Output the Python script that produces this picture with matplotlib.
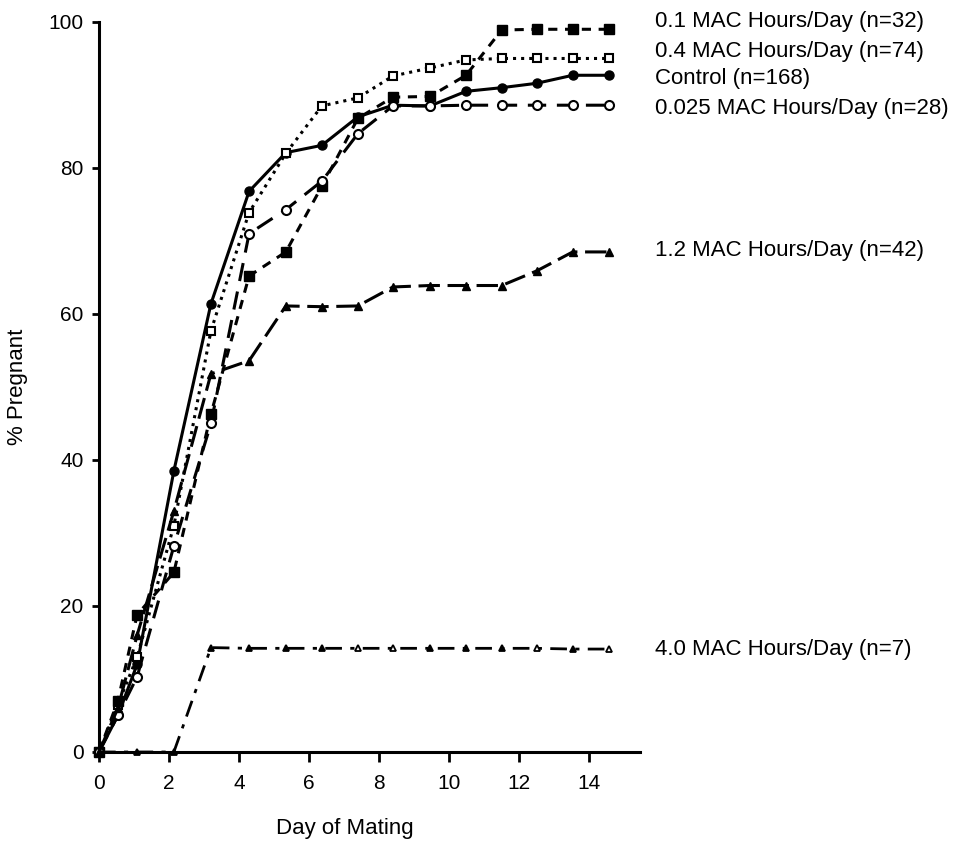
import matplotlib
matplotlib.use('Agg')
import matplotlib.pyplot as plt

plt.rcParams['font.family'] = ['Liberation Sans', 'DejaVu Sans']

# 日ごとのプロット位置
day_pos = [0, 0.54, 1.09, 2.14, 3.2, 4.29, 5.34, 6.37, 7.4, 8.4, 9.46, 10.49, 11.51, 12.51, 13.54, 14.57]
day_pos_40 = [0, 1.09, 2.14, 3.2, 4.29, 5.34, 6.37, 7.4, 8.4, 9.46, 10.49, 11.51, 12.51, 13.54, 14.57]

control = [0, 5, 12, 38.5, 61.4, 76.8, 82.1, 83.1, 87, 88.6, 88.5, 90.5, 91, 91.6, 92.7, 92.7]
mac_04 = [0, 6.5, 13, 31, 57.7, 73.9, 82, 88.5, 89.6, 92.6, 93.7, 94.8, 95, 95, 95, 95]
mac_01 = [0, 7, 18.8, 24.6, 46.3, 65.2, 68.5, 77.5, 86.8, 89.7, 89.8, 92.7, 98.9, 99, 99, 99]
mac_0025 = [0, 5, 10.3, 28.2, 45, 71, 74.3, 78.2, 84.7, 88.5, 88.5, 88.6, 88.6, 88.6, 88.6, 88.6]
mac_12 = [0, 6, 16, 33, 51.8, 53.6, 61.1, 61, 61.1, 63.7, 63.9, 63.9, 63.9, 65.9, 68.5, 68.5]
mac_40 = [0, 0, 0, 14.3, 14.2, 14.2, 14.2, 14.2, 14.2, 14.2, 14.2, 14.2, 14.2, 14.1, 14.1]
mac_40_open = [False, False, False, False, False, False, True, True, False, False, False, True, False, True]

labels = ['0.1 MAC Hours/Day (n=32)', '0.4 MAC Hours/Day (n=74)', 'Control (n=168)',
          '0.025 MAC Hours/Day (n=28)', '1.2 MAC Hours/Day (n=42)', '4.0 MAC Hours/Day (n=7)']
label_y = [100.0, 96.0, 92.2, 88.2, 68.7, 14.0]

fig = plt.figure(figsize=(9.61, 8.42), dpi=100)
ax = fig.add_axes([0.103, 0.1069, 0.5629, 0.867])

kw = dict(color='black', clip_on=False)
ax.plot(day_pos, control, '-', lw=2.2, marker='o', ms=6.5, mfc='black', **kw)
ax.plot(day_pos, mac_04, ':', lw=2.2, marker='s', ms=5.5, mfc='white', mew=1.5, **kw)
ax.plot(day_pos, mac_01, lw=2.2, dashes=(3, 2.5), marker='s', ms=6.5, mfc='black', **kw)
ax.plot(day_pos, mac_0025, lw=2.2, dashes=(6, 3.5), marker='o', ms=6.5, mfc='white', mew=1.5, **kw)
ax.plot(day_pos, mac_12, lw=2.2, dashes=(7, 2.5), marker='^', ms=6, mfc='black', **kw)

# 4.0 MAC: 一点鎖線、マーカーは塗り/白抜きが混在
ax.plot(day_pos_40, mac_40, lw=2, dashes=(6, 3, 1.5, 3), **kw)
for x, y, op in zip(day_pos_40[1:], mac_40[1:], mac_40_open):
    ax.plot(x, y, marker='^', ms=5, mfc='white' if op else 'black', mew=1.3, **kw)

for txt, y in zip(labels, label_y):
    ax.text(15.89, y, txt, fontsize=16, va='center', ha='left', clip_on=False)

ax.set_xlim(0, 15.46)
ax.set_ylim(0, 100)
ax.set_xticks(range(0, 15, 2))
ax.set_yticks(range(0, 101, 20))
ax.tick_params(axis='both', direction='out', width=2, labelsize=15)
ax.tick_params(axis='x', length=7, pad=9)
ax.tick_params(axis='y', length=5, pad=6)

for side in ['top', 'right']:
    ax.spines[side].set_visible(False)
for side in ['left', 'bottom']:
    ax.spines[side].set_linewidth(2.2)

ax.set_xlabel('Day of Mating', fontsize=16)
ax.xaxis.set_label_coords(0.455, -0.09)
ax.set_ylabel('% Pregnant', fontsize=16)
ax.yaxis.set_label_coords(-0.131, 0.5)

fig.savefig('out.png', dpi=100)
plt.close(fig)
